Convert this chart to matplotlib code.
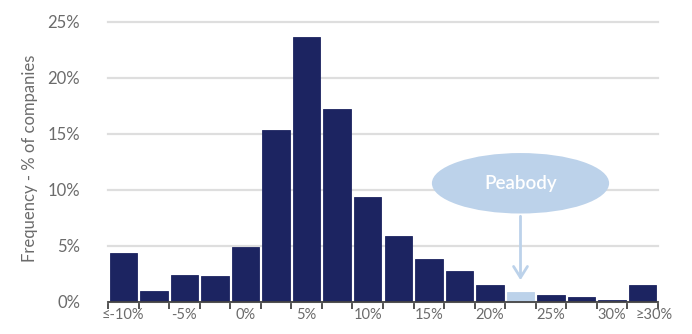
import matplotlib
matplotlib.use("Agg")
import matplotlib.pyplot as plt
from matplotlib.patches import Ellipse
from matplotlib.transforms import ScaledTranslation

categories = ["≤-10%", "-7.5%", "-5%", "-2.5%", "0%", "2.5%", "5%", "7.5%", "10%",
              "12.5%", "15%", "17.5%", "20%", "22.5%", "25%", "27.5%", "30%", "≥30%"]
frequency = [4.35, 1.0, 2.4, 2.3, 4.9, 15.35, 23.7, 17.2, 9.4,
             5.9, 3.85, 2.8, 1.55, 0.87, 0.63, 0.42, 0.15, 1.52]
shown_labels = ["≤-10%", "-5%", "0%", "5%", "10%", "15%", "20%", "25%", "30%", "≥30%"]
highlight = "22.5%"
highlight_name = "Peabody"
y_ticks = [0, 5, 10, 15, 20, 25]

navy = "#1c2461"
light = "#bcd2ea"
grey_text = "#6b6b6b"

plt.rcParams["font.family"] = ["Lato", "DejaVu Sans"]

fig = plt.figure(figsize=(6.92, 3.34), dpi=100)
ax = fig.add_axes([108/692, 1-302/334, 550/692, 280/334])

x = list(range(len(categories)))
colors = [light if c == highlight else navy for c in categories]
ax.bar(x, frequency, width=0.9, color=colors, edgecolor=colors, linewidth=0.6, zorder=3)

ax.set_xlim(-0.5, len(categories) - 0.5)
ax.set_ylim(0, 25)
ax.set_yticks(y_ticks)
ax.set_yticklabels([f"{v}%" for v in y_ticks], fontsize=12, color=grey_text)
ax.tick_params(axis="y", length=0, pad=20)
ax.grid(axis="y", color="#dedede", linewidth=1.6, zorder=0)
for gl in ax.get_ygridlines():
    gl.set_clip_on(False)

# x ticks: boundary marks, labels centred on selected bars
ax.set_xticks([i - 0.5 for i in range(len(categories) + 1)])
ax.set_xticklabels([])
ax.tick_params(axis="x", which="major", length=5, width=1.3, color="#444444", direction="out")
lab_pos = [categories.index(l) for l in shown_labels]
ax.set_xticks(lab_pos, minor=True)
ax.set_xticklabels(shown_labels, minor=True, fontsize=10.5, color=grey_text)
ax.tick_params(axis="x", which="minor", length=0, pad=4)
last = ax.get_xticklabels(minor=True)[-1]
last.set_transform(last.get_transform() + ScaledTranslation(0.11, 0, fig.dpi_scale_trans))

for s in ["top", "right", "left"]:
    ax.spines[s].set_visible(False)
ax.spines["bottom"].set_color("#444444")
ax.spines["bottom"].set_linewidth(1.3)
ax.spines["bottom"].set_zorder(4)

fig.text(30/692, 1-158/334, "Frequency - % of companies", rotation=90,
         ha="center", va="center", fontsize=12, color=grey_text)

hx = categories.index(highlight)
ell = Ellipse((hx, 10.6), width=5.8, height=5.4, facecolor=light, edgecolor="none",
              zorder=5, clip_on=False)
ax.add_patch(ell)
ax.text(hx, 10.6, highlight_name, ha="center", va="center", color="white",
        fontsize=13.5, fontweight="semibold", zorder=6)
ax.annotate("", xy=(hx, 1.7), xytext=(hx, 7.9),
            arrowprops=dict(arrowstyle="->,head_length=0.8,head_width=0.5",
                            color=light, lw=2), zorder=5)

fig.savefig("out.png", dpi=100, facecolor="white")
